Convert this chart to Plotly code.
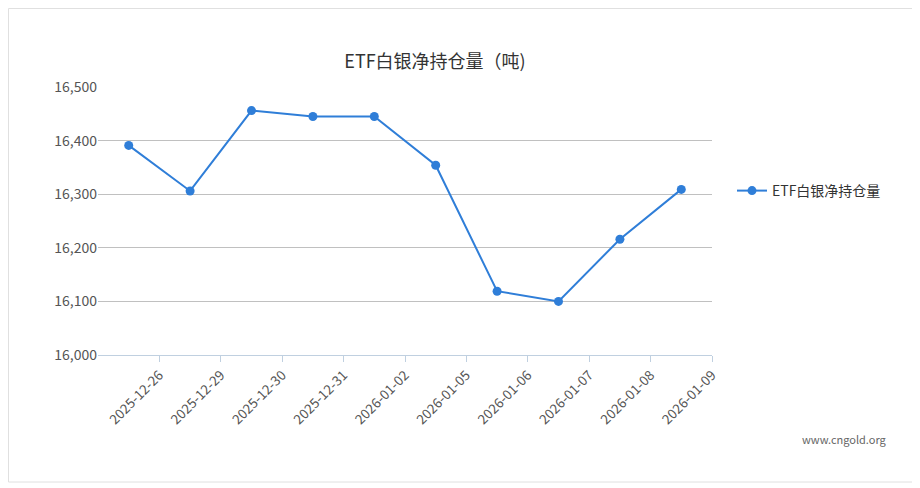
import plotly.graph_objects as go

dates = ["2025-12-26", "2025-12-29", "2025-12-30", "2025-12-31", "2026-01-02",
         "2026-01-05", "2026-01-06", "2026-01-07", "2026-01-08", "2026-01-09"]
holdings = [16391, 16306, 16456, 16445, 16445, 16354, 16119, 16100, 16216, 16309]
y_ticks = [16000, 16100, 16200, 16300, 16400, 16500]

xpos = [i + 0.5 for i in range(len(dates))]

# page body has an 8px margin, so shift target pixel positions
O = 8
W, H = 920, 488
L, T = 98 - O, 87 - O
pw, ph = 712 - 98, 355 - 87
R, B = W - L - pw, H - T - ph


def px(x):
    return (x - O - L) / pw


def py(y):
    return (T + ph - (y - O)) / ph


fig = go.Figure()
fig.add_trace(go.Scatter(
    x=xpos, y=holdings, mode="lines+markers", name="ETF白银净持仓量",
    line=dict(color="#2f7ed8", width=2),
    marker=dict(color="#2f7ed8", size=9),
    customdata=dates, hovertemplate="%{customdata}<br>%{y:,}<extra></extra>",
))

fig.update_layout(
    width=W, height=H,
    margin=dict(l=L, r=R, t=T, b=B),
    paper_bgcolor="white", plot_bgcolor="white",
    font=dict(family="Noto Sans CJK SC, Noto Sans, sans-serif", color="#333"),
    title=dict(text="ETF白银净持仓量（吨)", x=(435 - O) / W, xanchor="center",
               y=1 - (62 - O) / H, yanchor="middle", font=dict(size=18, color="#333")),
    xaxis=dict(range=[0, 10], tickmode="array",
               tickvals=list(range(1, len(dates) + 1)), ticktext=dates,
               tickangle=-45, ticks="outside", ticklen=6, tickcolor="#c0d0e0",
               showgrid=False, showline=True, linecolor="#c0d0e0",
               tickfont=dict(size=13.5, color="#555"), zeroline=False, fixedrange=True),
    yaxis=dict(range=[16000, 16500], tickmode="array", tickvals=y_ticks,
               tickformat=",", gridcolor="#c0c0c0", showline=False, zeroline=False,
               tickfont=dict(size=14, color="#555"), ticks="", fixedrange=True),
    legend=dict(x=px(732), y=py(191), xanchor="left", yanchor="middle",
                font=dict(size=14, color="#333"), bgcolor="rgba(0,0,0,0)"),
    showlegend=True,
    shapes=[dict(type="rect", xref="paper", yref="paper",
                 x0=px(O + 0.5), x1=px(O + W - 14), y0=py(482), y1=py(O + 0.5),
                 line=dict(color="#e0e0e0", width=1))],
    annotations=[dict(text="www.cngold.org", xref="paper", yref="paper",
                      x=px(889), y=py(439), xanchor="right", yanchor="middle",
                      showarrow=False, font=dict(size=11, color="#666"))],
)

fig.write_html("out.html")
